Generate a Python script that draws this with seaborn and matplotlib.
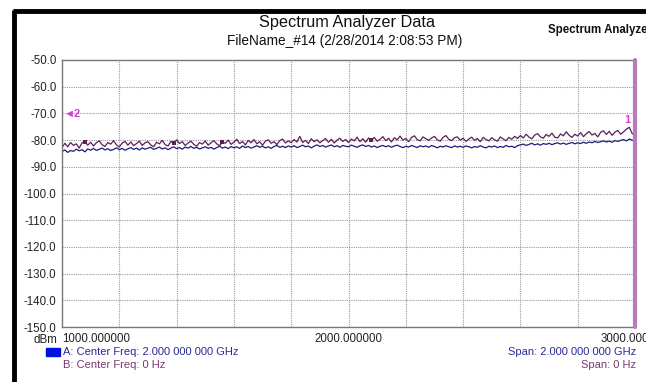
import numpy as np
import pandas as pd
import matplotlib
matplotlib.use("Agg")
import matplotlib.pyplot as plt
from matplotlib.lines import Line2D
from matplotlib.patches import Rectangle
import seaborn as sns

# ---------------- data ----------------
freq_start = 1000.0
freq_step = 10.0
trace_b_purple = [
    -82.8, -81.2, -82.5, -80.9, -82.0, -81.4, -83.0, -81.0, -80.6, -81.9,
    -80.8, -82.2, -81.0, -80.3, -81.7, -82.4, -80.9, -81.5, -80.2, -81.8,
    -82.6, -81.1, -80.5, -81.9, -80.7, -82.1, -81.3, -80.4, -82.0, -81.0,
    -80.6, -81.8, -82.5, -80.8, -81.4, -80.1, -81.7, -82.2, -80.5, -81.2,
    -79.9, -81.3, -80.6, -82.0, -81.1, -80.4, -81.6, -82.3, -80.9, -81.5,
    -80.3, -81.9, -81.0, -80.2, -81.4, -82.1, -80.7, -81.2, -80.0, -81.6,
    -80.8, -79.7, -81.3, -80.5, -81.8, -80.1, -81.0, -79.8, -81.4, -80.6,
    -81.9, -80.4, -79.9, -81.2, -80.6, -81.7, -80.2, -79.6, -81.1, -80.3,
    -81.0, -79.8, -80.7, -78.6, -80.9, -80.1, -81.3, -79.5, -80.6, -79.9,
    -81.0, -80.2, -79.4, -80.8, -79.7, -81.1, -80.0, -79.3, -80.5, -79.8,
    -80.9, -79.6, -80.3, -78.9, -80.6, -79.5, -80.8, -79.2, -80.1, -79.0,
    -80.4, -79.7, -78.7, -80.2, -79.3, -80.7, -79.1, -79.9, -78.5, -80.0,
    -79.4, -80.6, -79.0, -78.4, -79.8, -80.3, -78.8, -79.5, -80.1, -79.2,
    -78.6, -79.9, -80.4, -79.0, -78.3, -79.7, -80.2, -79.1, -78.8, -80.0,
    -79.3, -80.5, -79.6, -78.9, -80.1, -79.4, -80.6, -79.0, -79.8, -80.3,
    -79.1, -79.9, -80.4, -78.8, -79.6, -80.2, -79.0, -79.7, -78.6, -79.4,
    -78.3, -79.2, -77.8, -78.9, -79.5, -78.1, -77.6, -78.8, -79.3, -77.9,
    -78.6, -77.4, -78.9, -79.2, -77.7, -78.4, -76.9, -78.2, -79.0, -77.8,
    -78.5, -77.2, -78.7, -77.6, -76.8, -78.1, -77.5, -78.8, -77.1, -76.5,
    -77.9, -76.7, -78.2, -77.0, -76.4, -77.8, -76.9, -75.9, -75.2, -77.5,
    -78.2,
]
trace_a_blue = [
    -84.3, -83.7, -84.6, -83.9, -84.2, -83.4, -84.0, -83.6, -84.4, -83.3,
    -83.8, -83.1, -83.9, -83.4, -83.0, -83.7, -83.2, -83.9, -83.5, -82.9,
    -83.6, -83.1, -83.8, -83.3, -82.8, -83.5, -83.0, -83.7, -82.9, -83.4,
    -83.0, -82.7, -83.5, -83.1, -82.6, -83.3, -82.9, -83.6, -83.0, -82.5,
    -83.2, -82.8, -83.4, -82.6, -83.0, -82.4, -83.1, -82.7, -83.3, -82.9,
    -82.5, -83.1, -82.7, -83.4, -82.8, -82.3, -83.0, -82.6, -83.2, -82.4,
    -82.9, -82.5, -83.1, -82.2, -82.8, -82.4, -83.0, -82.6, -82.1, -82.7,
    -82.3, -82.9, -82.5, -83.1, -82.4, -82.0, -82.7, -82.3, -82.8, -82.2,
    -82.6, -82.1, -82.8, -82.4, -81.9, -82.5, -82.2, -82.9, -82.3, -81.8,
    -82.4, -82.0, -82.6, -82.2, -81.8, -82.5, -82.1, -82.7, -82.0, -82.3,
    -82.5, -81.9, -82.3, -82.7, -82.1, -81.8, -82.4, -82.0, -82.6, -82.2,
    -82.8, -82.3, -82.0, -82.5, -82.1, -82.7, -82.2, -81.9, -82.4, -82.8,
    -82.3, -82.6, -82.0, -82.4, -82.8, -82.1, -82.5, -82.2, -82.7, -82.0,
    -82.4, -82.9, -82.3, -82.6, -82.1, -82.5, -82.8, -82.2, -82.6, -82.3,
    -82.7, -82.2, -82.5, -82.9, -82.4, -82.7, -82.1, -82.6, -82.9, -82.3,
    -82.6, -82.2, -82.8, -82.4, -82.7, -82.0, -82.5, -82.3, -82.8, -82.1,
    -81.8, -81.5, -82.0, -81.6, -81.2, -81.8, -81.4, -81.9, -81.3, -81.6,
    -81.2, -81.7, -81.3, -81.0, -81.5, -81.1, -81.6, -81.2, -80.9, -81.4,
    -81.0, -81.3, -80.8, -81.2, -80.7, -81.0, -80.5, -80.9, -80.6, -80.3,
    -80.7, -80.4, -80.8, -80.2, -80.5, -80.1, -79.8, -80.3, -79.6, -80.0,
    -80.4,
]
square_idx = [8, 39, 56, 108]
y_ticks = [-50, -60, -70, -80, -90, -100, -110, -120, -130, -140, -150]
x_labels = [1000.0, 2000.0, 3000.0]
x_grid = [1000, 1200, 1400, 1600, 1800, 2000, 2200, 2400, 2600, 2800, 3000]
marker1 = (2972.0, -72.5, "1")
marker2 = (1008.0, -70.0, "\u25c42")

freqs = [freq_start + i * freq_step for i in range(len(trace_a_blue))]
df = pd.DataFrame({
    "freq": freqs * 2,
    "level": trace_a_blue + trace_b_purple,
    "trace": ["A"] * len(freqs) + ["B"] * len(freqs),
})

# ---------------- figure ----------------
sns.set_style("white")
plt.rcParams["font.family"] = ["Liberation Sans", "DejaVu Sans"]

W, H = 646, 382
fig = plt.figure(figsize=(W / 100, H / 100), dpi=100)
ax = fig.add_axes([62 / W, 1 - 327 / H, (635 - 62) / W, (327 - 60) / H])

blue = "#1c1c7a"
purple = "#5c1f55"
sns.lineplot(data=df, x="freq", y="level", hue="trace",
             palette={"A": blue, "B": purple}, hue_order=["A", "B"],
             linewidth=0.9, legend=False, ax=ax, estimator=None, sort=False)
sq_x = [freqs[i] for i in square_idx]
sq_y = [trace_b_purple[i] for i in square_idx]
ax.scatter(sq_x, sq_y, marker="s", s=12, color=purple, zorder=5, linewidths=0)

ax.set_xlim(1000, 3000)
ax.set_ylim(-150, -50)
ax.set_yticks(y_ticks)
ax.set_yticklabels([f"{v:.1f}" for v in y_ticks], fontsize=8.3, color="#222222")
ax.set_xticks(x_labels)
ax.set_xticklabels([f"{v:.6f}" for v in x_labels], fontsize=8.3, color="#222222")
tl = ax.get_xticklabels()
tl[0].set_ha("left")
ax.tick_params(axis="x", length=0, pad=4)
ax.tick_params(axis="y", length=0, pad=4)
ax.set_xlabel("")
ax.set_ylabel("")

for yv in y_ticks[1:-1]:
    ax.axhline(yv, color="#9a9a9a", linestyle=(0, (1, 1)), linewidth=0.8, zorder=0)
for xv in x_grid[1:-1]:
    ax.axvline(xv, color="#9a9a9a", linestyle=(0, (1, 1)), linewidth=0.8, zorder=0)

for s in ["left", "bottom", "top"]:
    ax.spines[s].set_color("#777777")
    ax.spines[s].set_linewidth(1.0)
ax.spines["right"].set_visible(False)
ax.axvline(3000, color="#b87ab8", linewidth=3, zorder=6, clip_on=False)

ax.text(marker1[0], marker1[1], marker1[2], color="#d63fd0", fontsize=8,
        fontweight="bold", ha="center", va="center")
ax.text(marker2[0], marker2[1], marker2[2], color="#d63fd0", fontsize=8,
        fontweight="bold", ha="left", va="center")

# titles
fig.text(347 / W, 1 - 22 / H, "Spectrum Analyzer Data", ha="center", va="center",
         fontsize=11.7, color="#111111")
fig.text(345 / W, 1 - 41 / H, "FileName_#14 (2/28/2014 2:08:53 PM)", ha="center",
         va="center", fontsize=9.8, color="#111111")
fig.text(548 / W, 1 - 30 / H, "Spectrum Analyzer", ha="left", va="center",
         fontsize=8.3, fontweight="bold", color="#111111")

# dBm label
fig.text(57 / W, 1 - 340 / H, "dBm", ha="right", va="center", fontsize=8.3, color="#222222")

# bottom legend texts
fig.patches.append(Rectangle((46 / W, 1 - 356 / H), 14 / W, 8 / H,
                             transform=fig.transFigure, color="#0010e0"))
fig.text(63 / W, 1 - 352 / H, "A: Center Freq: 2.000 000 000 GHz", ha="left",
         va="center", fontsize=8, color="#2a2a9a")
fig.text(63 / W, 1 - 365 / H, "B: Center Freq: 0 Hz", ha="left",
         va="center", fontsize=8, color="#7a3a72")
fig.text(636 / W, 1 - 352 / H, "Span: 2.000 000 000 GHz", ha="right",
         va="center", fontsize=8, color="#2a2a9a")
fig.text(636 / W, 1 - 365 / H, "Span: 0 Hz", ha="right",
         va="center", fontsize=8, color="#7a3a72")

# black frame
fig.add_artist(Line2D([14 / W, 14 / W], [0, 1 - 10 / H], transform=fig.transFigure,
                      color="black", linewidth=3.5, solid_capstyle="butt"))
fig.add_artist(Line2D([12.5 / W, 1], [1 - 11 / H, 1 - 11 / H], transform=fig.transFigure,
                      color="black", linewidth=3.5, solid_capstyle="butt"))

fig.savefig("out.png", dpi=100)
